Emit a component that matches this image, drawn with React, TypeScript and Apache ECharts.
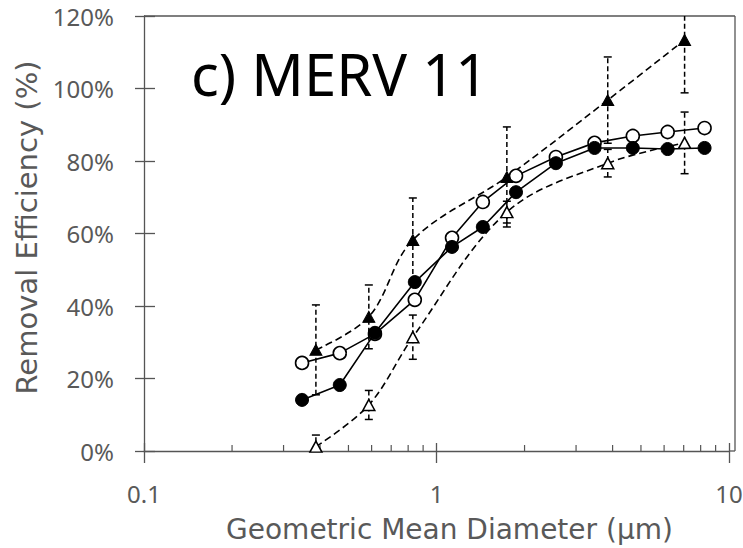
import React, { useEffect, useRef } from "react";
import * as echarts from "echarts";

// Geometric mean diameters (µm) of the circle series
const diameters = [0.347, 0.467, 0.616, 0.843, 1.13, 1.44, 1.87, 2.56, 3.47, 4.69, 6.17, 8.25];
// Removal efficiency (%) — filled circles
const filledCircle = [14.1, 18.2, 32.6, 46.6, 56.3, 61.8, 71.4, 79.4, 83.6, 83.6, 83.3, 83.6];
// Removal efficiency (%) — open circles
const openCircle = [24.3, 27.0, 32.3, 41.7, 58.8, 68.7, 75.9, 81.1, 85.0, 86.9, 88.0, 89.1];

// Diameters (µm) of the triangle series
const triDiameters = [0.387, 0.587, 0.83, 1.74, 3.85, 7.05];
// Filled triangles mean and error (%)
const filledTri = [27.9, 37.0, 58.2, 75.6, 96.8, 113.4];
const filledTriErr = [12.4, 8.8, 11.6, 13.8, 11.9, 14.6];
// Open triangles mean and error (%)
const openTri = [1.2, 12.7, 31.4, 65.9, 79.4, 85.0];
const openTriErr = [3.2, 4.0, 6.1, 3.0, 3.8, 8.5];

// Minor tick positions on the log axis
const minorTicks = [0.2, 0.3, 0.4, 0.5, 0.6, 0.7, 0.8, 0.9, 2, 3, 4, 5, 6, 7, 8, 9];

const titleText = "c) MERV 11";
const xName = "Geometric Mean Diameter (μm)";
const yName = "Removal Efficiency (%)";

const FONT = '"Noto Sans", "DejaVu Sans", sans-serif';
const NAME_FONT = '"DejaVu Sans", "Noto Sans", sans-serif';
const TXT = "#595959";
const AXC = "#555555";

function errorBarItem(params: any, api: any) {
  const x = api.value(0);
  const lo = api.value(1);
  const hi = api.value(2);
  const pLo = api.coord([x, lo]);
  const pHi = api.coord([x, hi]);
  const cap = 4;
  return {
    type: "group",
    children: [
      {
        type: "line",
        shape: { x1: pLo[0], y1: pLo[1], x2: pHi[0], y2: pHi[1] },
        style: { stroke: "#000", lineWidth: 1.5, lineDash: [5, 3] },
      },
      {
        type: "line",
        shape: { x1: pLo[0] - cap, y1: pLo[1], x2: pLo[0] + cap, y2: pLo[1] },
        style: { stroke: "#000", lineWidth: 1.5 },
      },
      {
        type: "line",
        shape: { x1: pHi[0] - cap, y1: pHi[1], x2: pHi[0] + cap, y2: pHi[1] },
        style: { stroke: "#000", lineWidth: 1.5 },
      },
    ],
  };
}

function minorTickItem(params: any, api: any) {
  const p = api.coord([api.value(0), 0]);
  return {
    type: "line",
    shape: { x1: p[0], y1: p[1], x2: p[0], y2: p[1] - 6 },
    style: { stroke: AXC, lineWidth: 1.2 },
  };
}

export default function App() {
  const ref = useRef<HTMLDivElement>(null);
  useEffect(() => {
    if (!ref.current) return;
    const chart = echarts.init(ref.current, null, { renderer: "svg" });
    const xBase = {
      type: "log",
      logBase: 10,
      min: 0.1,
      max: 10,
      gridIndex: 0,
      position: "bottom",
      splitLine: { show: false },
      minorTick: { show: false },
      minorSplitLine: { show: false },
    };
    const yBase = {
      type: "value",
      min: 0,
      max: 120,
      interval: 20,
      position: "left",
      splitLine: { show: false },
    };
    chart.setOption({
      animation: false,
      backgroundColor: "#ffffff",
      grid: { left: 144, right: 14, top: 16, bottom: 97, outerBoundsMode: "none", containLabel: false },
      xAxis: [
        {
          ...xBase,
          axisLine: { show: true, lineStyle: { color: AXC, width: 1.3 } },
          axisTick: { show: true, inside: false, length: 12, lineStyle: { color: AXC, width: 1.3 } },
          axisLabel: {
            show: true,
            margin: 30,
            color: TXT,
            fontFamily: FONT,
            fontSize: 24,
            formatter: (v: number) => String(v),
          },
          name: xName,
          nameLocation: "middle",
          nameGap: 64,
          nameTextStyle: { color: TXT, fontFamily: NAME_FONT, fontSize: 28, padding: [0, 0, 0, 26] },
        },
        {
          ...xBase,
          axisLine: { show: false },
          axisTick: { show: true, inside: true, length: 8, lineStyle: { color: AXC, width: 1.3 } },
          axisLabel: { show: false },
        },
      ],
      yAxis: [
        {
          ...yBase,
          axisLine: { show: true, lineStyle: { color: AXC, width: 1.3 } },
          axisTick: { show: true, inside: false, length: 9, lineStyle: { color: AXC, width: 1.3 } },
          axisLabel: {
            show: true,
            margin: 30,
            color: TXT,
            fontFamily: FONT,
            fontSize: 24,
            formatter: "{value}%",
          },
          name: yName,
          nameLocation: "middle",
          nameGap: 99,
          nameTextStyle: { color: TXT, fontFamily: NAME_FONT, fontSize: 29, padding: [0, 0, 0, 12] },
        },
        {
          ...yBase,
          axisLine: { show: false },
          axisTick: { show: true, inside: true, length: 11, lineStyle: { color: AXC, width: 1.3 } },
          axisLabel: { show: false },
        },
      ],
      graphic: [
        {
          type: "line",
          shape: { x1: 144, y1: 16, x2: 735, y2: 16 },
          style: { stroke: AXC, lineWidth: 1.3 },
        },
        {
          type: "line",
          shape: { x1: 735, y1: 16, x2: 735, y2: 451 },
          style: { stroke: AXC, lineWidth: 1.3 },
        },
        {
          type: "line",
          shape: { x1: 729, y1: 451, x2: 735, y2: 451 },
          style: { stroke: AXC, lineWidth: 1.3 },
        },
        {
          type: "text",
          style: {
            text: titleText,
            x: 191,
            y: 73,
            verticalAlign: "middle",
            align: "left",
            fill: "#000",
            font: `58px ${FONT}`,
          },
        },
      ],
      series: [
        {
          type: "custom",
          name: "minorTicks",
          renderItem: minorTickItem,
          data: minorTicks.map((v) => [v, 0]),
          encode: { x: 0, y: 1 },
          clip: false,
          silent: true,
          z: 1,
        },
        {
          type: "custom",
          name: "filledTriErr",
          renderItem: errorBarItem,
          data: triDiameters.map((d, i) => [d, filledTri[i] - filledTriErr[i], filledTri[i] + filledTriErr[i]]),
          encode: { x: 0, y: [1, 2] },
          clip: true,
          z: 2,
        },
        {
          type: "custom",
          name: "openTriErr",
          renderItem: errorBarItem,
          data: triDiameters.map((d, i) => [d, openTri[i] - openTriErr[i], openTri[i] + openTriErr[i]]),
          encode: { x: 0, y: [1, 2] },
          clip: true,
          z: 2,
        },
        {
          type: "line",
          name: "filledTri",
          data: triDiameters.map((d, i) => [d, filledTri[i]]),
          smooth: 0.35,
          symbol: "triangle",
          symbolSize: [12, 11],
          lineStyle: { color: "#000", width: 1.6, type: [7, 4] },
          itemStyle: { color: "#000", borderColor: "#000", borderWidth: 1 },
          z: 3,
        },
        {
          type: "line",
          name: "openTri",
          data: triDiameters.map((d, i) => [d, openTri[i]]),
          smooth: 0.35,
          symbol: "triangle",
          symbolSize: [12, 11],
          lineStyle: { color: "#000", width: 1.6, type: [7, 4] },
          itemStyle: { color: "#fff", borderColor: "#000", borderWidth: 1.5 },
          z: 3,
        },
        {
          type: "line",
          name: "openCircle",
          data: diameters.map((d, i) => [d, openCircle[i]]),
          symbol: "circle",
          symbolSize: 13,
          lineStyle: { color: "#000", width: 1.6 },
          itemStyle: { color: "#fff", borderColor: "#000", borderWidth: 1.6 },
          z: 4,
        },
        {
          type: "line",
          name: "filledCircle",
          data: diameters.map((d, i) => [d, filledCircle[i]]),
          symbol: "circle",
          symbolSize: 13,
          lineStyle: { color: "#000", width: 1.6 },
          itemStyle: { color: "#000", borderColor: "#000", borderWidth: 1 },
          z: 5,
        },
      ],
    });
    return () => chart.dispose();
  }, []);
  return (
    <div
      ref={ref}
      style={{ position: "fixed", left: 0, top: 0, width: 743, height: 548, background: "#fff" }}
    />
  );
}
